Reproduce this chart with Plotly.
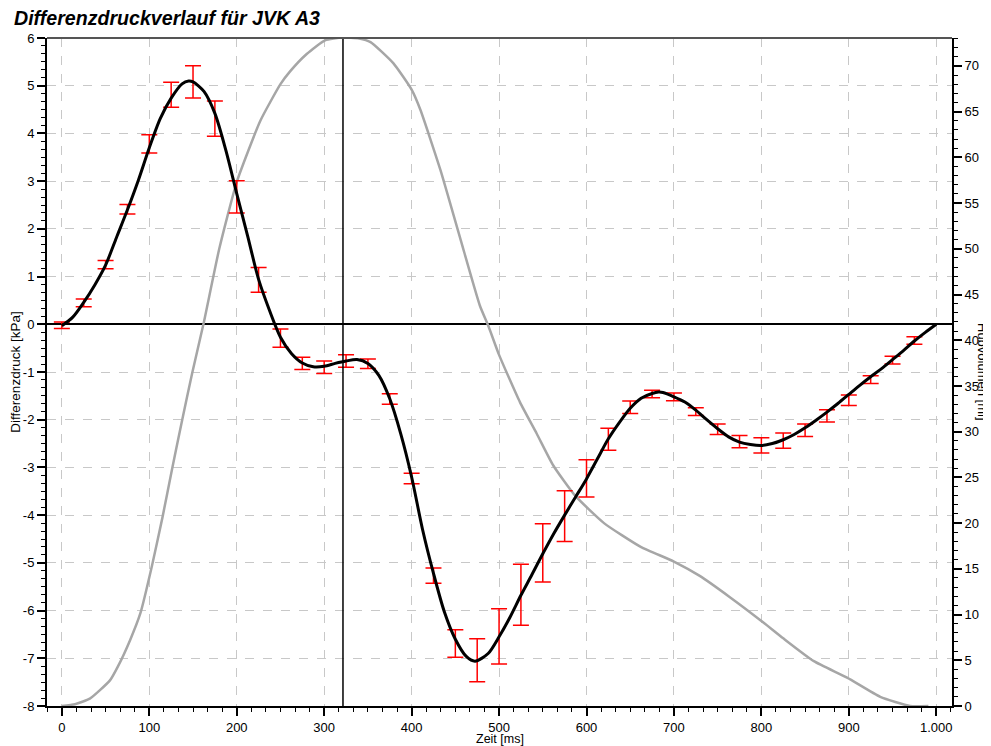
import plotly.graph_objects as go

# ---------------- data ----------------
# smooth differential pressure curve (kPa)
curve_t = [0, 12.5, 25, 37.5, 50, 62.5, 75, 87.5, 100, 112.5, 125, 137.5, 145, 150, 162.5, 175, 187.5,
           200, 212.5, 225, 237.5, 250, 262.5, 275, 287.5, 300, 312.5, 325, 337.5, 350, 362.5, 375,
           387.5, 400, 412.5, 425, 437.5, 450, 462.5, 472.5, 487.5, 500, 512.5, 525, 537.5, 550,
           562.5, 575, 587.5, 600, 612.5, 625, 637.5, 650, 662.5, 675, 682.5, 687.5, 700, 712.5, 725,
           737.5, 750, 762.5, 775, 787.5, 800, 812.5, 825, 837.5, 850, 862.5, 875, 887.5, 900,
           912.5, 925, 937.5, 950, 962.5, 975, 987.5, 1000]
curve_p = [-0.03, 0.15, 0.46, 0.82, 1.24, 1.82, 2.40, 3.02, 3.70, 4.31, 4.74, 5.04, 5.10, 5.08, 4.88, 4.42, 3.65,
           2.74, 1.85, 0.94, 0.29, -0.27, -0.61, -0.81, -0.89, -0.88, -0.82, -0.77, -0.74, -0.82, -1.07, -1.56,
           -2.29, -3.20, -4.30, -5.22, -6.03, -6.60, -6.96, -7.06, -6.90, -6.55, -6.14, -5.68, -5.25, -4.81,
           -4.39, -4.00, -3.62, -3.24, -2.82, -2.40, -2.06, -1.76, -1.55, -1.45, -1.42, -1.43, -1.52, -1.63, -1.80,
           -2.00, -2.19, -2.36, -2.47, -2.52, -2.54, -2.50, -2.42, -2.31, -2.17, -2.01, -1.84, -1.66, -1.47,
           -1.28, -1.10, -0.93, -0.74, -0.55, -0.35, -0.17, 0.0]

# mean values with error bars (kPa)
err_t = [0, 25, 50, 75, 100, 125, 150, 175, 200, 225, 250, 275, 300, 325, 350, 375, 400, 425, 450, 475,
         500, 525, 550, 575, 600, 625, 650, 675, 700, 725, 750, 775, 800, 825, 850, 875, 900, 925, 950, 975]
err_mean = [-0.02, 0.45, 1.25, 2.41, 3.78, 4.81, 5.08, 4.31, 2.67, 0.93, -0.29, -0.82, -0.90, -0.77, -0.825,
            -1.565, -3.23, -5.27, -6.69, -7.04, -6.54, -5.67, -4.79, -4.02, -3.23, -2.41, -1.74, -1.46, -1.52,
            -1.83, -2.20, -2.46, -2.54, -2.44, -2.22, -1.92, -1.59, -1.16, -0.75, -0.34]
err_sd = [0.07, 0.08, 0.085, 0.10, 0.19, 0.26, 0.34, 0.37, 0.34, 0.26, 0.19, 0.13, 0.13, 0.13, 0.10,
          0.11, 0.11, 0.16, 0.29, 0.45, 0.58, 0.64, 0.61, 0.53, 0.39, 0.23, 0.13, 0.08, 0.08,
          0.08, 0.11, 0.13, 0.16, 0.16, 0.13, 0.13, 0.11, 0.08, 0.08, 0.08]

# stroke volume curve (ml)
vol_t = [0, 15, 32, 55, 64, 78, 90, 103, 115, 126, 137, 149, 162, 180, 200, 227, 250, 261, 280, 301, 321,
         340, 353, 379, 400, 410, 433, 456, 478, 488, 500, 524, 543, 562, 587, 620, 662, 700, 730, 764,
         800, 825, 860, 898, 936, 970, 991]
vol_ml = [0.0, 0.2, 0.8, 2.8, 4.3, 7.2, 10.2, 15.3, 20.6, 25.9, 31.0, 36.4, 41.8, 50.0, 57.3, 64.0, 68.0,
          69.4, 71.3, 72.8, 73.1, 73.0, 72.6, 70.3, 67.4, 65.2, 58.6, 51.0, 43.8, 41.5, 38.4, 33.2, 29.8,
          26.3, 23.0, 20.0, 17.4, 15.8, 14.2, 11.9, 9.3, 7.4, 4.9, 3.1, 1.0, 0.0, 0.0]

marker_time = [321.5]  # vertical reference line (ms)

x_ticks = [0, 100, 200, 300, 400, 500, 600, 700, 800, 900, 1000]
x_ticklabels = ["0", "100", "200", "300", "400", "500", "600", "700", "800", "900", "1.000"]
p_ticks = [6, 5, 4, 3, 2, 1, 0, -1, -2, -3, -4, -5, -6, -7, -8]
p_ticklabels = ["6", "5", "4", "3", "2", "1", "0", "-1", "-2", "-3", "-4", "-5", "-6", "-7", "-8"]

title_text = "Differenzdruckverlauf für JVK A3"
x_title = "Zeit [ms]"
p_title = "Differenzdruck [kPa]"
v_title = "Hubvolumen [ml]"

# ---------------- figure ----------------
# the page body adds an 8px offset, so margins are shifted by 8px
FONT = "Liberation Sans, Arial, sans-serif"
W, H = 991, 746
fig = go.Figure()

fig.add_trace(go.Scatter(x=vol_t, y=vol_ml, mode="lines", yaxis="y",
                         line=dict(color="#a6a6a6", width=2.5, shape="spline", smoothing=0.5),
                         hoverinfo="skip", showlegend=False))

fig.add_trace(go.Scatter(x=err_t, y=err_mean, mode="markers", yaxis="y2",
                         marker=dict(size=1, color="rgba(0,0,0,0)"),
                         error_y=dict(type="data", array=err_sd, visible=True, color="#ff0000",
                                      thickness=1.5, width=8),
                         showlegend=False))

fig.add_trace(go.Scatter(x=curve_t, y=curve_p, mode="lines", yaxis="y2",
                         line=dict(color="#000000", width=3, shape="spline", smoothing=0.8),
                         showlegend=False))

fig.add_shape(type="line", xref="x", yref="paper", x0=marker_time[0], x1=marker_time[0], y0=0, y1=1,
              line=dict(color="#000000", width=1.5), layer="above")
fig.add_shape(type="line", xref="paper", yref="paper", x0=0, x1=1, y0=1, y1=1,
              line=dict(color="#555555", width=2), layer="above")

fig.update_layout(
    width=W, height=H,
    margin=dict(l=39, r=47, t=30, b=48, autoexpand=False),
    paper_bgcolor="white", plot_bgcolor="white",
    font=dict(family=FONT, size=13, color="#000000"),
    title=dict(text="<b><i>" + title_text + "</i></b>", x=6 / W, xanchor="left", xref="container",
               y=1 - 10 / H, yanchor="middle", yref="container", automargin=False,
               font=dict(family=FONT, size=19.6, color="#000000")),
    xaxis=dict(range=[-17, 1018], tickvals=x_ticks, ticktext=x_ticklabels, automargin=False,
               showgrid=True, gridcolor="#c8c8c8", griddash="dash", gridwidth=1,
               showline=True, linecolor="#000000", linewidth=2, zeroline=False,
               ticks="outside", ticklen=8, tickwidth=1.5, tickcolor="#000000",
               minor=dict(dtick=100 / 6, tick0=0, ticks="outside", ticklen=4, tickwidth=1,
                          tickcolor="#000000", showgrid=False),
               tickfont=dict(size=13)),
    yaxis=dict(range=[0, 73.05], side="right", dtick=5, tick0=0, showgrid=False, zeroline=False,
               automargin=False,
               showline=True, linecolor="#000000", linewidth=2,
               ticks="outside", ticklen=8, tickwidth=1.5, tickcolor="#000000",
               minor=dict(dtick=1, ticks="outside", ticklen=4, tickwidth=1, tickcolor="#000000", showgrid=False),
               tickfont=dict(size=13)),
    yaxis2=dict(range=[-8, 6], overlaying="y", side="left", tickvals=p_ticks, ticktext=p_ticklabels,
                automargin=False,
                showgrid=True, gridcolor="#c8c8c8", griddash="dash", gridwidth=1,
                zeroline=True, zerolinecolor="#000000", zerolinewidth=1.5,
                showline=True, linecolor="#000000", linewidth=2,
                ticks="outside", ticklen=8, tickwidth=1.5, tickcolor="#000000",
                minor=dict(dtick=1 / 6, tick0=0, ticks="outside", ticklen=4, tickwidth=1,
                           tickcolor="#000000", showgrid=False),
                title=dict(text=p_title, font=dict(size=13.5), standoff=4),
                tickfont=dict(size=13)),
    annotations=[
        dict(text=v_title, xref="paper", yref="paper", x=1, y=0.5, xanchor="center",
             yanchor="middle", xshift=31, textangle=90, showarrow=False,
             font=dict(family=FONT, size=13)),
        dict(text=x_title, xref="paper", yref="paper", x=0.5, y=0, xanchor="center",
             yanchor="middle", yshift=-33.3, showarrow=False,
             font=dict(family=FONT, size=12.5)),
    ],
)

fig.write_html("out.html")
